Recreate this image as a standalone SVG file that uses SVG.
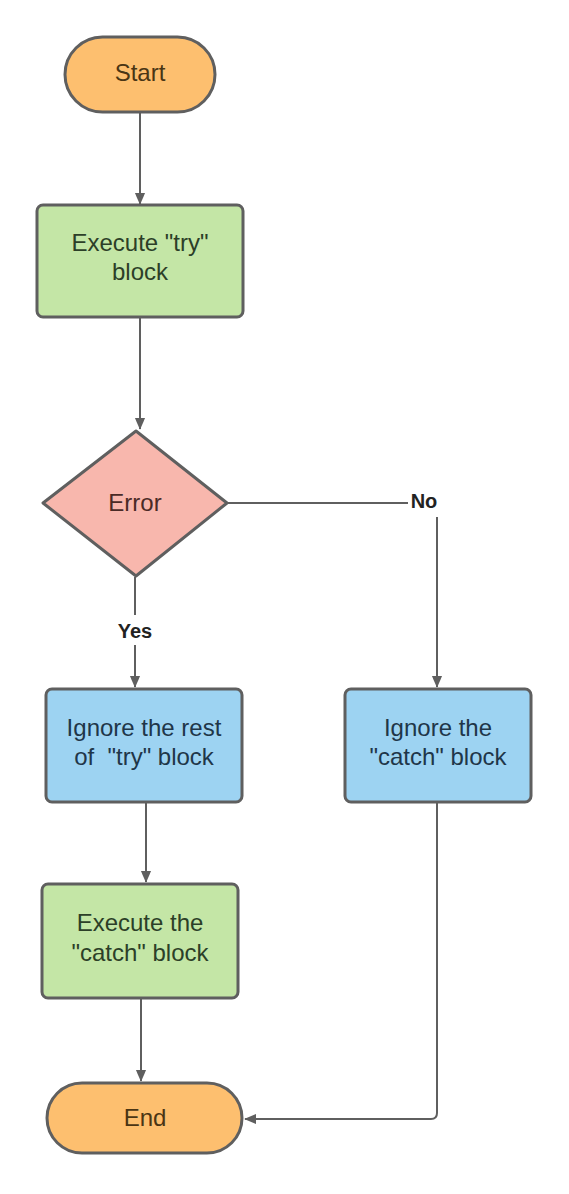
<svg xmlns="http://www.w3.org/2000/svg" width="569" height="1194" viewBox="0 0 569 1194">
<style>
.node{stroke:#5f5f5f;stroke-width:3}
.t{font-family:"Liberation Sans",Arial,sans-serif;font-size:24px;text-anchor:middle;white-space:pre}
.lbl{font-family:"Liberation Sans",Arial,sans-serif;font-size:20px;font-weight:bold;fill:#222;text-anchor:middle}
.c{fill:none;stroke:#5f5f5f;stroke-width:2}
</style>
<defs>
<marker id="ah" markerWidth="12" markerHeight="14" refX="13" refY="6" orient="auto" markerUnits="userSpaceOnUse" viewBox="0 0 14 12">
<path d="M0,0 L14,6 L0,12 z" fill="#5f5f5f"/>
</marker>
</defs>
<rect width="569" height="1194" fill="#ffffff"/>
<g id="connectors">
<path class="c" d="M140,112 L140,204" marker-end="url(#ah)"/>
<path class="c" d="M140,317 L140,429" marker-end="url(#ah)"/>
<path class="c" d="M227,503 L408,503"/>
<path class="c" d="M437,517 L437,687" marker-end="url(#ah)"/>
<path class="c" d="M135,577 L135,615"/>
<path class="c" d="M135,645 L135,687" marker-end="url(#ah)"/>
<path class="c" d="M146,802 L146,882" marker-end="url(#ah)"/>
<path class="c" d="M141,998 L141,1081" marker-end="url(#ah)"/>
<path class="c" d="M437,802 L437,1113 Q437,1119 431,1119 L245,1119" marker-end="url(#ah)"/>
<text class="lbl" x="424" y="508">No</text>
<text class="lbl" x="135" y="638">Yes</text>
</g>
<g id="start">
<rect class="node" x="65" y="37" width="150" height="75" rx="37.5" fill="#FDBF6F"/>
<text class="t" x="140" y="81" fill="#4a3514">Start</text>
</g>
<g id="try">
<rect class="node" x="37" y="205" width="206" height="112" rx="6" fill="#C4E6A6"/>
<text class="t" x="140" y="251" fill="#2c3f28">Execute "try"</text>
<text class="t" x="140" y="280" fill="#2c3f28">block</text>
</g>
<g id="error">
<polygon class="node" points="136,431 227,503 136,576 43,503" stroke-linejoin="round" fill="#F8B7AD"/>
<text class="t" x="135" y="511" fill="#4a2a26">Error</text>
</g>
<g id="ignore-rest">
<rect class="node" x="46" y="689" width="196" height="113" rx="6" fill="#9DD3F2"/>
<text class="t" x="144" y="736" fill="#1f3649">Ignore the rest</text>
<text class="t" x="144" y="765" fill="#1f3649" xml:space="preserve">of  "try" block</text>
</g>
<g id="ignore-catch">
<rect class="node" x="345" y="689" width="186" height="113" rx="6" fill="#9DD3F2"/>
<text class="t" x="438" y="736" fill="#1f3649">Ignore the</text>
<text class="t" x="438" y="765" fill="#1f3649">"catch" block</text>
</g>
<g id="execute-catch">
<rect class="node" x="42" y="884" width="196" height="114" rx="6" fill="#C4E6A6"/>
<text class="t" x="140" y="931" fill="#2c3f28">Execute the</text>
<text class="t" x="140" y="961" fill="#2c3f28">"catch" block</text>
</g>
<g id="end">
<rect class="node" x="47" y="1083" width="195" height="70" rx="35" fill="#FDBF6F"/>
<text class="t" x="145" y="1126" fill="#4a3514">End</text>
</g>
</svg>
